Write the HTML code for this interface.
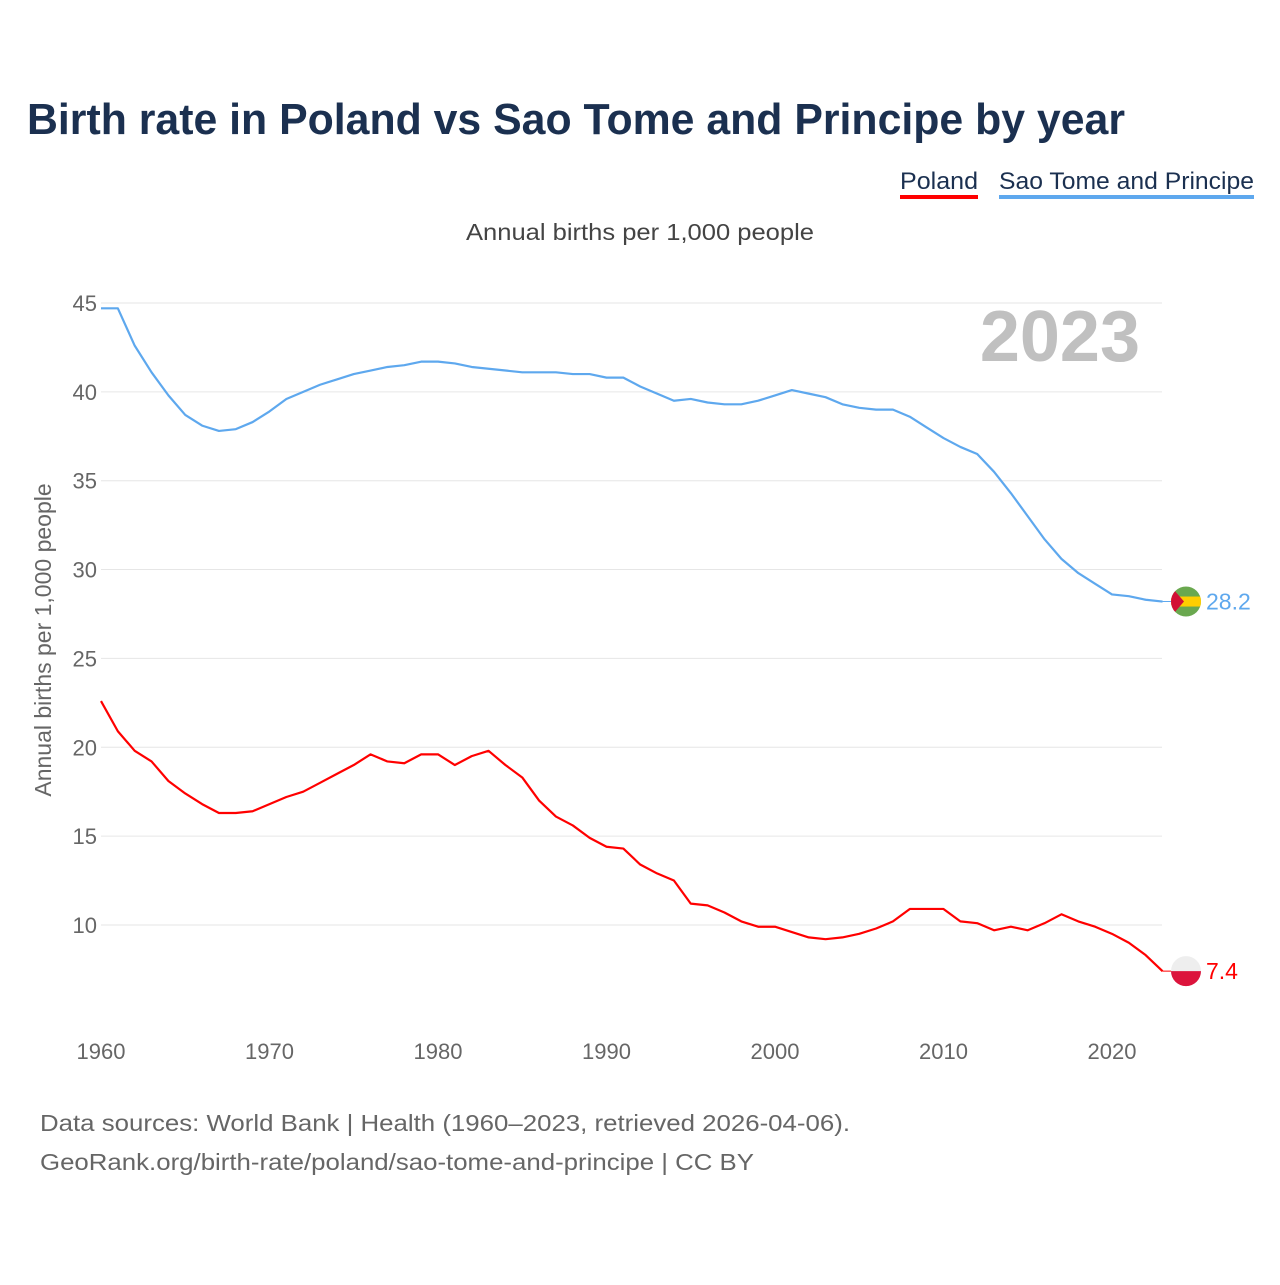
<!DOCTYPE html>
<html><head><meta charset="utf-8"><style>
body{margin:0;background:#fff;font-family:"Liberation Sans",sans-serif}
</style></head><body>
<svg id="chart" width="1280" height="1280" xmlns="http://www.w3.org/2000/svg" font-family="Liberation Sans, sans-serif">
<text x="27" y="134" font-size="44" font-weight="bold" fill="#1b3050" textLength="1098" lengthAdjust="spacingAndGlyphs">Birth rate in Poland vs Sao Tome and Principe by year</text>
<g><text x="900" y="189" font-size="24" fill="#1b3050" textLength="78" lengthAdjust="spacingAndGlyphs">Poland</text><rect x="900" y="195" width="78" height="4" fill="#f00"/></g>
<g><text x="999" y="189" font-size="24" fill="#1b3050" textLength="255" lengthAdjust="spacingAndGlyphs">Sao Tome and Principe</text><rect x="999" y="195" width="255" height="4" fill="#5ea8ee"/></g>
<text x="466" y="240" font-size="23" fill="#444" textLength="348" lengthAdjust="spacingAndGlyphs">Annual births per 1,000 people</text>
<text transform="translate(51,640) rotate(-90)" font-size="23" fill="#666" text-anchor="middle">Annual births per 1,000 people</text>
<text x="1140" y="361" font-size="72" font-weight="bold" fill="#c0c0c0" text-anchor="end">2023</text>
<g id="grid"></g><g id="series"></g>
<text x="40" y="1131" font-size="23" fill="#666" textLength="810" lengthAdjust="spacingAndGlyphs">Data sources: World Bank | Health (1960–2023, retrieved 2026-04-06).</text>
<text x="40" y="1170" font-size="23" fill="#666" textLength="714" lengthAdjust="spacingAndGlyphs">GeoRank.org/birth-rate/poland/sao-tome-and-principe | CC BY</text>
</svg>
<script>
const years=[];for(let y=1960;y<=2023;y++)years.push(y);
const yTicks=[10,15,20,25,30,35,40,45];
const xTicks=[1960,1970,1980,1990,2000,2010,2020];
const saoTome=[44.7,44.7,42.6,41.1,39.8,38.7,38.1,37.8,37.9,38.3,38.9,39.6,40.0,40.4,40.7,41.0,41.2,41.4,41.5,41.7,41.7,41.6,41.4,41.3,41.2,41.1,41.1,41.1,41.0,41.0,40.8,40.8,40.3,39.9,39.5,39.6,39.4,39.3,39.3,39.5,39.8,40.1,39.9,39.7,39.3,39.1,39.0,39.0,38.6,38.0,37.4,36.9,36.5,35.5,34.3,33.0,31.7,30.6,29.8,29.2,28.6,28.5,28.3,28.2];
const poland=[22.6,20.9,19.8,19.2,18.1,17.4,16.8,16.3,16.3,16.4,16.8,17.2,17.5,18.0,18.5,19.0,19.6,19.2,19.1,19.6,19.6,19.0,19.5,19.8,19.0,18.3,17.0,16.1,15.6,14.9,14.4,14.3,13.4,12.9,12.5,11.2,11.1,10.7,10.2,9.9,9.9,9.6,9.3,9.2,9.3,9.5,9.8,10.2,10.9,10.9,10.9,10.2,10.1,9.7,9.9,9.7,10.1,10.6,10.2,9.9,9.5,9.0,8.3,7.4];
const NS='http://www.w3.org/2000/svg';
const X=y=>101+(y-1960)*16.85;
const Y=v=>303+(45-v)*17.77;
const grid=document.getElementById('grid'),ser=document.getElementById('series');
function mk(t,a,p){const e=document.createElementNS(NS,t);for(const k in a)e.setAttribute(k,a[k]);p.appendChild(e);return e;}
yTicks.forEach(v=>{
 const l=mk('line',{x1:101,x2:1162,y1:Y(v),y2:Y(v),stroke:'#e6e6e6','stroke-width':1},grid);
 
 
 const t=mk('text',{x:97,y:Y(v)+8,'font-size':22,fill:'#666','text-anchor':'end'},grid);t.textContent=v;
 
 
});
xTicks.forEach(v=>{
 const t=mk('text',{x:X(v),y:1059,'font-size':22,fill:'#666','text-anchor':'middle'},grid);t.textContent=v;
 
 
});
function line(data,color,name){
 const p=mk('polyline',{points:data.map((v,i)=>X(years[i])+','+Y(v)).join(' '),fill:'none',stroke:color,'stroke-width':2.2,'stroke-linejoin':'round'},ser);
 
 
 const last=data[data.length-1],ly=Y(last),lx=X(2023);
 mk('line',{x1:lx,x2:1186,y1:ly,y2:ly,stroke:color,'stroke-width':1},ser);
 return [ly,last];
}
const [sy,sv]=line(saoTome,'#5ea8ee','sao-tome');
const [py,pv]=line(poland,'#f00','poland');
const g1=mk('g',{},ser);


const cp=mk('clipPath',{id:'c1'},g1);
mk('circle',{cx:1186,cy:sy,r:15},cp);
const f1=mk('g',{'clip-path':'url(#c1)'},g1);
mk('rect',{x:1171,y:sy-15,width:30,height:30,fill:'#6aa84f'},f1);
mk('rect',{x:1171,y:sy-5,width:30,height:10,fill:'#ffce00'},f1);
mk('polygon',{points:`1171,${sy-15} 1184,${sy} 1171,${sy+15}`,fill:'#d21034'},f1);
const lt=mk('text',{x:1206,y:sy+8,'font-size':23,fill:'#5ea8ee'},ser);lt.textContent=sv;


const g2=mk('g',{},ser);


mk('circle',{cx:1186,cy:py,r:15,fill:'#eee'},g2);
mk('path',{d:`M1171,${py} A15,15 0 0 0 1201,${py} Z`,fill:'#dc143c'},g2);
const lp=mk('text',{x:1206,y:py+8,'font-size':23,fill:'#f00'},ser);lp.textContent=pv;


</script>
</body></html>
